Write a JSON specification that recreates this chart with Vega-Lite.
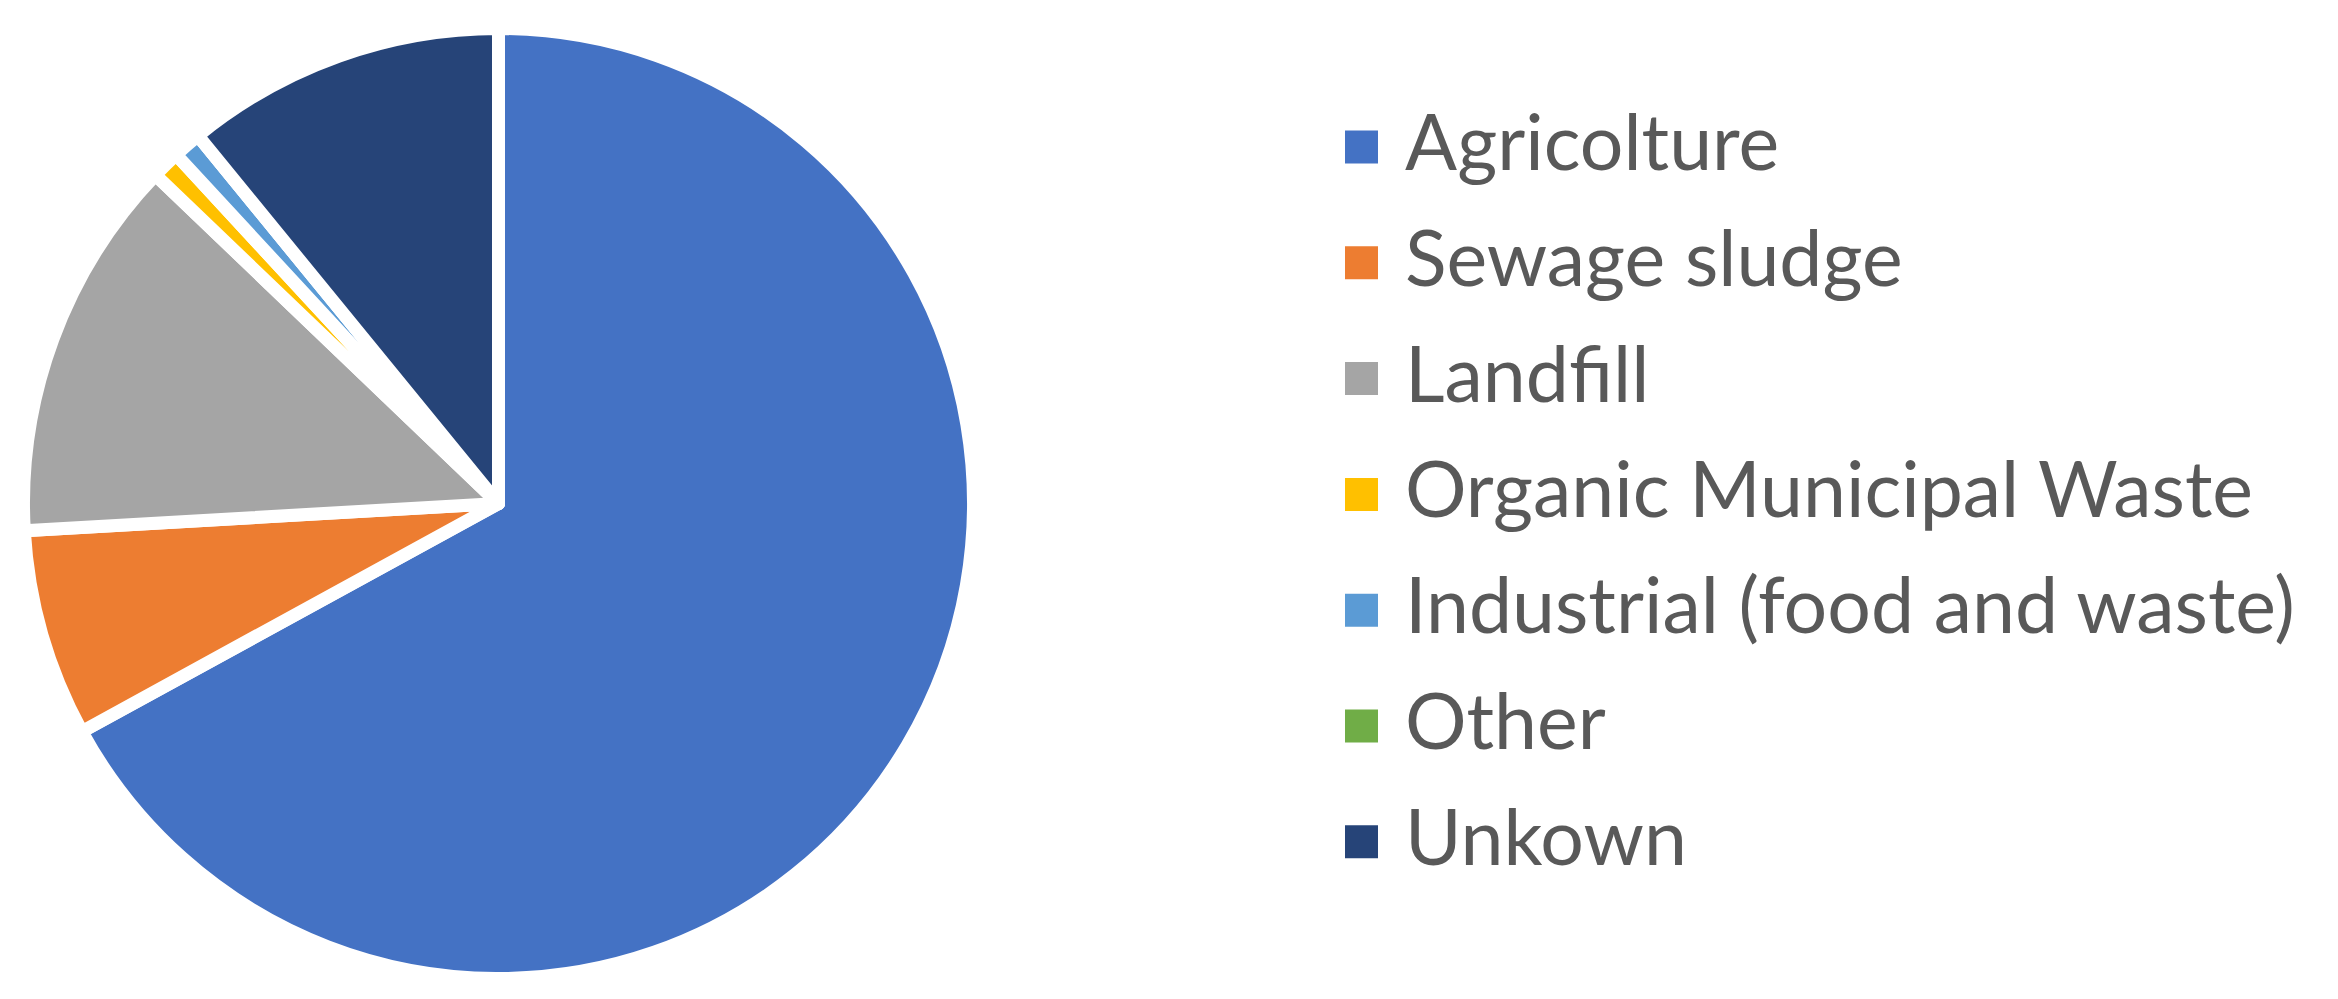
{
  "$schema": "https://vega.github.io/schema/vega-lite/v6.json",
  "width": 997,
  "height": 1007,
  "padding": {"left": 0, "top": 0, "right": 0, "bottom": 0},
  "background": "white",
  "data": {
    "values": [
      {"source": "Agricolture", "idx": 1, "value": 67.0},
      {"source": "Sewage sludge", "idx": 2, "value": 7.06},
      {"source": "Landfill", "idx": 3, "value": 13.06},
      {"source": "Organic Municipal Waste", "idx": 4, "value": 0.97},
      {"source": "Industrial (food and waste)", "idx": 5, "value": 0.97},
      {"source": "Other", "idx": 6, "value": 0},
      {"source": "Unkown", "idx": 7, "value": 10.9}
    ]
  },
  "mark": {"type": "arc", "outerRadius": 475, "stroke": "white", "strokeWidth": 13, "strokeJoin": "round"},
  "encoding": {
    "theta": {"field": "value", "type": "quantitative", "stack": true},
    "order": {"field": "idx", "type": "quantitative"},
    "color": {
      "field": "source",
      "type": "nominal",
      "scale": {
        "domain": ["Agricolture", "Sewage sludge", "Landfill", "Organic Municipal Waste", "Industrial (food and waste)", "Other", "Unkown"],
        "range": ["#4472C4", "#ED7D31", "#A5A5A5", "#FFC000", "#5B9BD5", "#70AD47", "#264478"]
      },
      "legend": {
        "title": null,
        "orient": "none",
        "legendX": 1323,
        "legendY": 108.5,
        "symbolType": "square",
        "symbolSize": 1089,
        "symbolStrokeWidth": 0,
        "labelFont": "Lato",
        "labelFontSize": 77,
        "labelColor": "#595959",
        "labelOffset": 5,
        "labelLimit": 0,
        "rowPadding": 37.8
      }
    }
  },
  "config": {"view": {"stroke": null}}
}
